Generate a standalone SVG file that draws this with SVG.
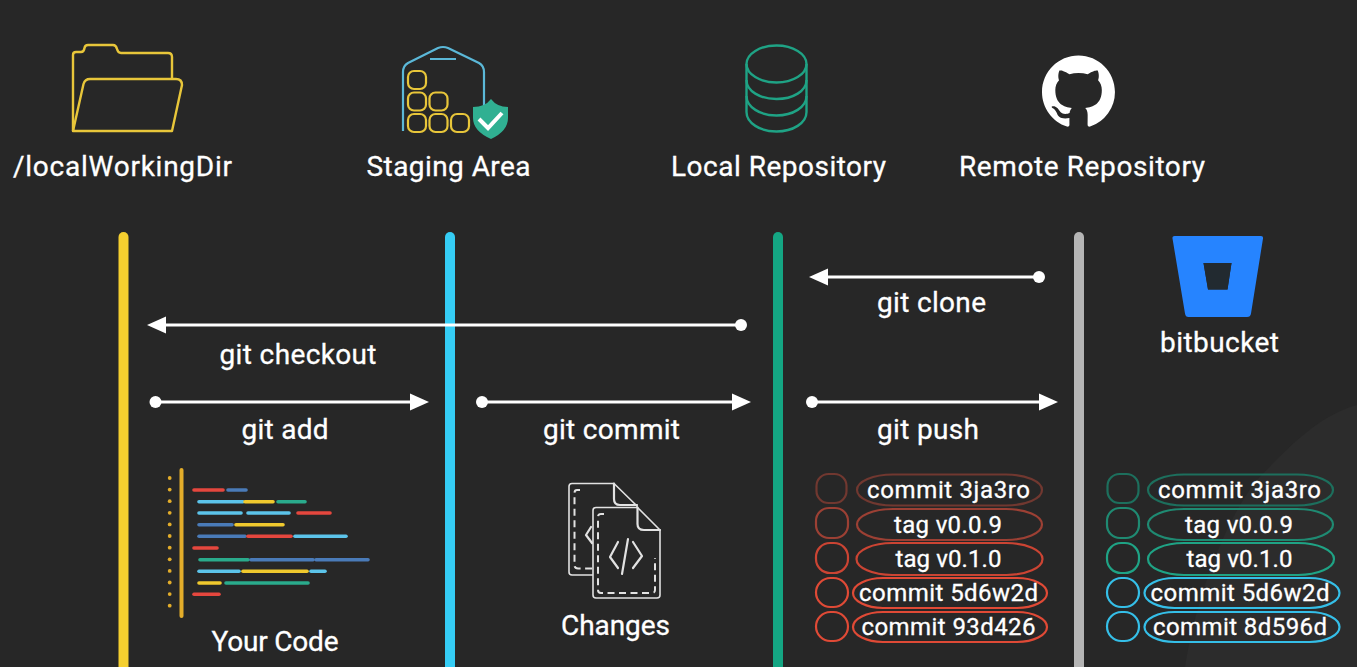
<svg xmlns="http://www.w3.org/2000/svg" width="1357" height="667" viewBox="0 0 1357 667">
<style>
text{font-family:"Roboto","Liberation Sans",sans-serif;fill:#fff;stroke:#fff;stroke-width:.3px;font-size:28px;text-anchor:middle;lengthAdjust:spacing}
.pt{font-size:24px}
.lane{stroke-width:10;stroke-linecap:round;fill:none}
.conn{stroke:#fff;stroke-width:3;fill:none}
.tip{fill:#fff}
.yl{fill:none;stroke:#e8c63a;stroke-width:2.4;stroke-linejoin:round}
.bx{fill:none;stroke:#e8c63a;stroke-width:2.2}
.db{fill:none;stroke:#1fa385;stroke-width:2.4}
.doc{fill:#272727;stroke:#e2e2e2;stroke-width:1.6;stroke-linejoin:round}
.dash{fill:none;stroke:#e2e2e2;stroke-width:2;stroke-dasharray:7 4.5}
.cd{stroke:#e2e2e2;stroke-width:2.2;fill:none;stroke-linecap:round;stroke-linejoin:round}
.bar{stroke-width:3.6;stroke-linecap:round}
.r{stroke:#e5473e}.b{stroke:#4a7bb8}.c{stroke:#5cc4ea}.y{stroke:#f0c92e}.g{stroke:#2aab8c}
.pill{fill:none;stroke-width:2.2}
</style>
<rect width="1357" height="667" fill="#272727"/>
<path d="M1357 405C1320 415 1290 445 1257 480C1225 520 1195 600 1185 667H1357Z" fill="#2c2c2c"/>

<g id="lanes">
<line class="lane" x1="123.500" y1="237" x2="123.500" y2="680" stroke="#f5cf2f"/>
<line class="lane" x1="450" y1="237" x2="450" y2="680" stroke="#35cdf5"/>
<line class="lane" x1="778" y1="237" x2="778" y2="680" stroke="#14a683"/>
<line class="lane" x1="1079" y1="237" x2="1079" y2="680" stroke="#b5b5b5"/>
</g>

<g id="connectors">
<circle class="tip" cx="1039" cy="277" r="6"/><line class="conn" x1="1039" y1="277" x2="825" y2="277"/><path class="tip" d="M809 277L828 268.500V285.500Z"/>
<circle class="tip" cx="741" cy="325" r="6"/><line class="conn" x1="741" y1="325" x2="163" y2="325"/><path class="tip" d="M147 325L166 316.500V333.500Z"/>
<circle class="tip" cx="155.500" cy="402" r="6"/><line class="conn" x1="155" y1="402" x2="412" y2="402"/><path class="tip" d="M429 402L410 393.500V410.500Z"/>
<circle class="tip" cx="482" cy="402" r="6"/><line class="conn" x1="482" y1="402" x2="734" y2="402"/><path class="tip" d="M751 402L732 393.500V410.500Z"/>
<circle class="tip" cx="812" cy="402" r="6"/><line class="conn" x1="812" y1="402" x2="1041" y2="402"/><path class="tip" d="M1058 402L1039 393.500V410.500Z"/>
<text x="931.500" y="312" textLength="109">git clone</text>
<text x="298" y="364" textLength="157">git checkout</text>
<text x="285" y="439" textLength="87">git add</text>
<text x="611.500" y="439" textLength="137">git commit</text>
<text x="928" y="439" textLength="102">git push</text>
</g>

<g id="working-dir">
<path class="yl" d="M73 131V55Q73 52 76 52H81Q84 52 84.500 48Q85 45 88 45H113Q116 45 117 49Q118 53 121 53H168Q172 53 172 57V79"/>
<path class="yl" d="M73 131L83.500 84Q85 79 90 79H176Q182 79 182 85L172 131Z"/>
<text x="122.500" y="176" textLength="219">/localWorkingDir</text>
</g>

<g id="staging-area">
<path fill="none" stroke="#5bb8d8" stroke-width="2.2" stroke-linejoin="round" d="M403 131V72Q403 66 408 63L438 48Q443 46 448 48L479 63Q484 66 484 72V108M430 59H456"/>
<g>
<rect class="bx" x="408" y="71" width="18" height="18" rx="6"/>
<rect class="bx" x="408" y="92.500" width="18" height="18" rx="6"/>
<rect class="bx" x="429.500" y="92.500" width="18" height="18" rx="6"/>
<rect class="bx" x="408" y="114" width="18" height="18" rx="6"/>
<rect class="bx" x="429.500" y="114" width="18" height="18" rx="6"/>
<rect class="bx" x="451" y="114" width="18" height="18" rx="6"/>
</g>
<path fill="#30b092" d="M491 99Q497 107 508 107V118Q508 131 491 139Q473 131 473 118V107Q485 107 491 99Z"/>
<path fill="none" stroke="#fff" stroke-width="4" d="M479 119L488 128L502 113"/>
<text x="448.500" y="176" textLength="164">Staging Area</text>
</g>

<g id="local-repository">
<path class="db" d="M746.500 64V112C746.500 123 760 131.500 776.500 131.500S806.500 123 806.500 112V64"/>
<ellipse class="db" cx="776.500" cy="64" rx="30" ry="18.500"/>
<path class="db" d="M746.500 80C746.500 91 760 99 776.500 99S806.500 91 806.500 80M746.500 96C746.500 107 760 115.500 776.500 115.500S806.500 107 806.500 96"/>
<text x="778.500" y="176" textLength="215">Local Repository</text>
</g>

<g id="remote-repository">
<path fill="#fff" fill-rule="evenodd" transform="translate(1042 55.500) scale(4.56)" d="M8 0C3.58 0 0 3.58 0 8c0 3.540 2.290 6.530 5.470 7.590.4.070.55-.17.55-.38 0-.19-.01-.82-.01-1.490-2.010.37-2.530-.49-2.690-.94-.09-.23-.48-.94-.82-1.130-.28-.15-.68-.52-.01-.53.63-.01 1.080.58 1.230.82.72 1.210 1.870.87 2.330.66.07-.52.28-.87.51-1.070-1.780-.2-3.640-.89-3.640-3.950 0-.87.31-1.590.82-2.150-.08-.2-.36-1.020.08-2.120 0 0 .67-.21 2.200.82.64-.18 1.320-.27 2-.27.68 0 1.360.09 2 .27 1.530-1.040 2.200-.82 2.200-.82.44 1.100.16 1.920.08 2.120.51.56.82 1.270.82 2.150 0 3.070-1.870 3.750-3.650 3.950.29.25.54.73.54 1.480 0 1.070-.01 1.930-.01 2.200 0 .21.15.46.55.38A8.013 8.013 0 0016 8c0-4.420-3.580-8-8-8z"/>
<text x="1082" y="176" textLength="246">Remote Repository</text>
</g>

<g id="bitbucket">
<path fill="#2684ff" fill-rule="evenodd" d="M1174.500 236H1261Q1263.500 236 1263 238.500L1251 313.500Q1250.500 317 1247 317H1188.500Q1185.500 317 1185 313.500L1172.500 238.500Q1172 236 1174.500 236ZM1203.500 263L1208 289.500H1227.500L1231.500 263Z"/>
<path fill="#222a30" d="M1203.500 263L1208 289.500H1227.500L1231.500 263Z"/>
<text x="1219.500" y="352" textLength="119">bitbucket</text>
</g>

<g id="your-code">
<line x1="181.500" y1="470" x2="181.500" y2="616" stroke="#e3ad2a" stroke-width="4" stroke-linecap="round"/>
<g fill="#e3ad2a">
<circle cx="169.700" cy="478" r="1.900"/><circle cx="169.700" cy="489.600" r="1.900"/><circle cx="169.700" cy="501.200" r="1.900"/><circle cx="169.700" cy="512.800" r="1.900"/><circle cx="169.700" cy="524.400" r="1.900"/><circle cx="169.700" cy="536" r="1.900"/><circle cx="169.700" cy="547.700" r="1.900"/><circle cx="169.700" cy="559.300" r="1.900"/><circle cx="169.700" cy="570.900" r="1.900"/><circle cx="169.700" cy="582.500" r="1.900"/><circle cx="169.700" cy="594.100" r="1.900"/><circle cx="169.700" cy="605.700" r="1.900"/>
</g>
<g class="bars">
<line class="bar r" x1="194" x2="223" y1="490" y2="490"/><line class="bar b" x1="228" x2="246" y1="490" y2="490"/>
<line class="bar c" x1="199" x2="243" y1="501.700" y2="501.700"/><line class="bar y" x1="245" x2="273" y1="501.700" y2="501.700"/><line class="bar g" x1="278" x2="305" y1="501.700" y2="501.700"/>
<line class="bar c" x1="199" x2="241" y1="513" y2="513"/><line class="bar c" x1="248" x2="289" y1="513" y2="513"/><line class="bar r" x1="298" x2="330" y1="513" y2="513"/>
<line class="bar b" x1="199" x2="232" y1="524.700" y2="524.700"/><line class="bar y" x1="236" x2="283" y1="524.700" y2="524.700"/>
<line class="bar b" x1="199" x2="245" y1="536.300" y2="536.300"/><line class="bar r" x1="248" x2="291" y1="536.300" y2="536.300"/><line class="bar c" x1="295" x2="346" y1="536.300" y2="536.300"/>
<line class="bar r" x1="194" x2="217" y1="548" y2="548"/>
<line class="bar g" x1="200" x2="248" y1="559.700" y2="559.700"/><line class="bar b" x1="251" x2="313" y1="559.700" y2="559.700"/><line class="bar b" x1="316" x2="368" y1="559.700" y2="559.700"/>
<line class="bar c" x1="199" x2="239" y1="571.300" y2="571.300"/><line class="bar y" x1="243" x2="307" y1="571.300" y2="571.300"/><line class="bar c" x1="311" x2="325" y1="571.300" y2="571.300"/>
<line class="bar y" x1="199" x2="220" y1="583" y2="583"/><line class="bar g" x1="226" x2="308" y1="583" y2="583"/>
<line class="bar r" x1="194" x2="219" y1="594.300" y2="594.300"/>
</g>
<text x="275" y="651" textLength="127">Your Code</text>
</g>

<g id="changes">
<path class="doc" d="M614 483.500H572Q569 483.500 569 486.500V572Q569 575 572 575H637V506L614 483.500Z"/>
<path class="cd" d="M614 483.500V499Q614 505 620 505H637"/>
<path class="dash" d="M580 490H577Q574.500 490 574.500 493V565Q574.500 568.500 578 568.500H593"/>
<path class="cd" d="M591 527L586 535L592 543"/>
<path class="doc" d="M637.500 507.500H596Q593 507.500 593 510.500V595Q593 598 596 598H657Q660 598 660 595V530Z"/>
<path class="cd" d="M637.500 507.500V524Q637.500 530 644 530H660"/>
<path class="dash" d="M604 514H601Q598 514 598 517V590Q598 593 601 593H652Q655 593 655 590V558"/>
<path class="cd" d="M618 542L610 557L618 568M633 542L642 556L633 568M628 539L622 574"/>
<text x="615.500" y="635" textLength="109">Changes</text>
</g>

<g id="local-refs">
<g stroke="#713830">
<rect class="pill" x="816.500" y="474" width="30" height="29" rx="12"/><rect class="pill" x="857" y="474.500" width="185" height="31" rx="36" ry="15.500"/>
</g>
<g stroke="#9c4034">
<rect class="pill" x="816" y="508" width="32" height="30" rx="13"/><rect class="pill" x="857" y="509" width="185" height="31" rx="36" ry="15.500"/>
</g>
<g stroke="#cb4433">
<rect class="pill" x="816" y="543" width="32" height="30" rx="14"/><rect class="pill" x="856.500" y="543" width="186" height="32" rx="36" ry="16"/>
</g>
<g stroke="#e04a36">
<rect class="pill" x="816" y="578" width="32" height="29" rx="14.500"/><rect class="pill" x="853" y="578" width="194" height="30" rx="30" ry="15"/>
<rect class="pill" x="816" y="612" width="32" height="29" rx="14.500"/><rect class="pill" x="853" y="612" width="194" height="30" rx="30" ry="15"/>
</g>
<text class="pt" x="948.500" y="498" textLength="163">commit 3ja3ro</text>
<text class="pt" x="948" y="533" textLength="108">tag v0.0.9</text>
<text class="pt" x="948.500" y="567" textLength="106">tag v0.1.0</text>
<text class="pt" x="948.500" y="601" textLength="179">commit 5d6w2d</text>
<text class="pt" x="948.500" y="635" textLength="174">commit 93d426</text>
</g>

<g id="remote-refs">
<g stroke="#1d6f5d">
<rect class="pill" x="1107.500" y="474" width="31" height="29" rx="12"/><rect class="pill" x="1148" y="474.500" width="185" height="31" rx="36" ry="15.500"/>
</g>
<g stroke="#1f8a72">
<rect class="pill" x="1107" y="508" width="32" height="30" rx="13"/><rect class="pill" x="1148" y="509" width="185" height="31" rx="36" ry="15.500"/>
</g>
<g stroke="#1fa385">
<rect class="pill" x="1107" y="543" width="32" height="30" rx="14"/><rect class="pill" x="1148" y="543" width="186" height="32" rx="36" ry="16"/>
</g>
<g stroke="#35bfe8">
<rect class="pill" x="1107" y="578" width="32" height="29" rx="14.500"/><rect class="pill" x="1144.500" y="578" width="195" height="30" rx="30" ry="15"/>
<rect class="pill" x="1107" y="612" width="32" height="29" rx="14.500"/><rect class="pill" x="1144.500" y="612" width="195" height="30" rx="30" ry="15"/>
</g>
<text class="pt" x="1239.500" y="498" textLength="163">commit 3ja3ro</text>
<text class="pt" x="1239" y="533" textLength="108">tag v0.0.9</text>
<text class="pt" x="1239.500" y="567" textLength="106">tag v0.1.0</text>
<text class="pt" x="1240" y="601" textLength="179">commit 5d6w2d</text>
<text class="pt" x="1240" y="635" textLength="174">commit 8d596d</text>
</g>
</svg>
